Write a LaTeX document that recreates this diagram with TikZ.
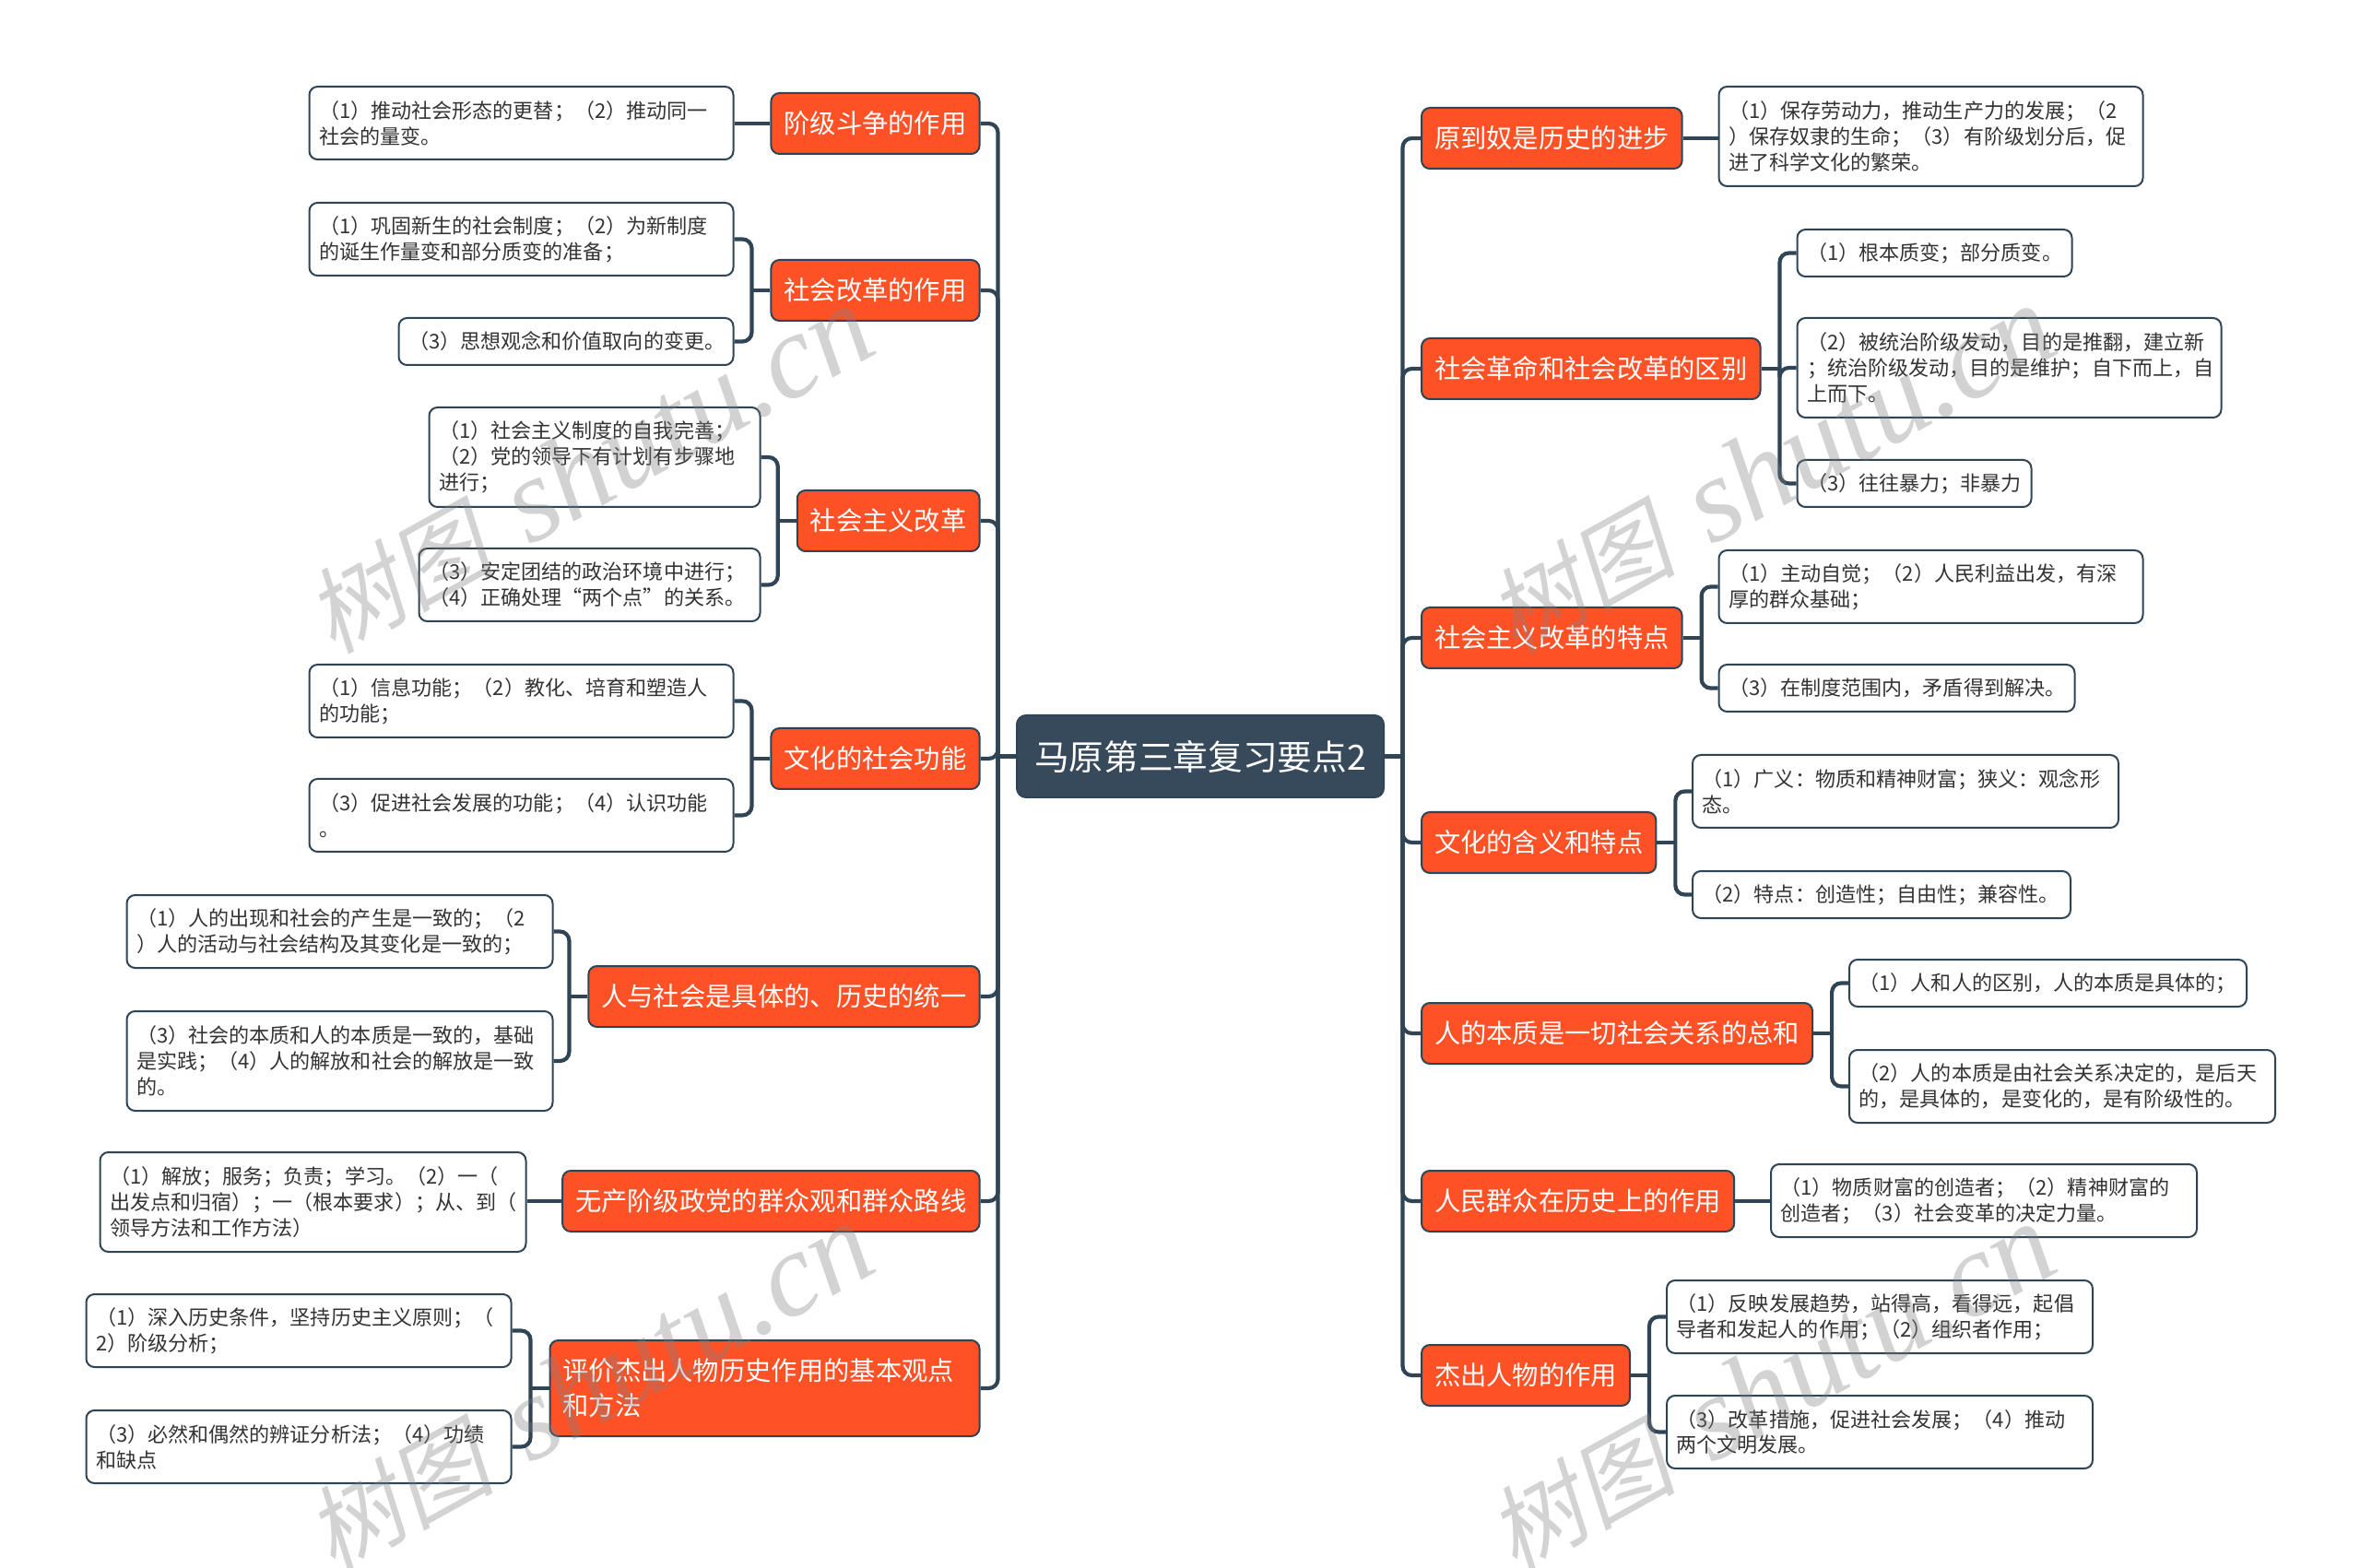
\documentclass[tikz,border=0pt]{standalone}
\usepackage{fontspec}
\setmainfont{Noto Sans CJK SC}
\newfontfamily\wmcjk[FakeSlant=0.2]{Noto Sans CJK SC}
\newfontfamily\wmlatin{Liberation Serif}[ItalicFont=* Italic]
\usetikzlibrary{calc}
\definecolor{navy}{HTML}{374A5C}
\definecolor{wire}{HTML}{2F4455}
\definecolor{flame}{HTML}{FF5126}
\definecolor{ink}{HTML}{333333}
\tikzset{
	rootbox/.style={draw=wire, line width=0.02cm, fill=navy, text=white, rounded corners=0.1cm, minimum width=3.98cm, minimum height=0.89cm, inner sep=0, font=\fontsize{10.72}{13}\selectfont},
	topic/.style={draw=wire, line width=0.02cm, fill=flame, text=white, rounded corners=0.09cm, minimum height=0.66cm, inner xsep=0.14cm, inner ysep=0, font=\fontsize{8.05}{10.77}\selectfont},
	leaf/.style={draw=wire, line width=0.02cm, fill=white, text=ink, rounded corners=0.09cm, inner xsep=0.105cm, inner ysep=0, align=left, font=\fontsize{6.28}{7.95}\selectfont},
	one/.style={leaf, minimum height=0.51cm},
	two/.style={leaf, minimum height=0.79cm},
	three/.style={leaf, minimum height=1.08cm},
	conn/.style={draw=wire, line width=0.042cm},
	elbow/.style={conn, rounded corners=0.1cm},
	wm/.style={text=black!50, opacity=0.35, rotate=29, inner sep=0}
}
\begin{document}
\begin{tikzpicture}[y=-1cm]
	\def\xL{10.635}
	\def\xR{15.41}
	\useasboundingbox (0,0) rectangle (25.60,17.01);

	\coordinate (ltrunk) at (10.825,0);
	\coordinate (rtrunk) at (15.215,0);

	\node[rootbox, anchor=north west] (root) at (11.02,7.75) {马原第三章复习要点2};

	\begin{scope}[every node/.append style={topic, anchor=north east}]
		\node (l1) at (\xL,1.00) {阶级斗争的作用};
		\node (l2) at (\xL,2.81) {社会改革的作用};
		\node (l3) at (\xL,5.31) {社会主义改革};
		\node (l4) at (\xL,7.89) {文化的社会功能};
		\node (l5) at (\xL,10.47) {人与社会是具体的、历史的统一};
		\node (l6) at (\xL,12.69) {无产阶级政党的群众观和群众路线};
		\node[text width=4.38cm, align=left, minimum height=1.04cm] (l7) at (\xL,14.53) {评价杰出人物历史作用的基本观点\\和方法};
	\end{scope}

	\begin{scope}[every node/.append style={topic, anchor=north west}]
		\node (r1) at (\xR,1.16) {原到奴是历史的进步};
		\node (r2) at (\xR,3.66) {社会革命和社会改革的区别};
		\node (r3) at (\xR,6.58) {社会主义改革的特点};
		\node (r4) at (\xR,8.80) {文化的含义和特点};
		\node (r5) at (\xR,10.87) {人的本质是一切社会关系的总和};
		\node (r6) at (\xR,12.69) {人民群众在历史上的作用};
		\node (r7) at (\xR,14.58) {杰出人物的作用};
	\end{scope}

	\begin{scope}[every node/.append style={anchor=north east}]
		\node[two, text width=4.39cm] (l1a) at (7.965,0.93) {（1）推动社会形态的更替；（2）推动同一\\社会的量变。};
		\node[two, text width=4.39cm] (l2a) at (7.965,2.19) {（1）巩固新生的社会制度；（2）为新制度\\的诞生作量变和部分质变的准备；};
		\node[one, text width=3.42cm] (l2b) at (7.965,3.44) {（3）思想观念和价值取向的变更。};
		\node[three, text width=3.38cm] (l3a) at (8.255,4.41) {（1）社会主义制度的自我完善；\\（2）党的领导下有计划有步骤地\\进行；};
		\node[two, text width=3.49cm] (l3b) at (8.255,5.94) {（3）安定团结的政治环境中进行；\\（4）正确处理“两个点”的关系。};
		\node[two, text width=4.39cm] (l4a) at (7.965,7.20) {（1）信息功能；（2）教化、培育和塑造人\\的功能；};
		\node[two, text width=4.39cm] (l4b) at (7.965,8.44) {（3）促进社会发展的功能；（4）认识功能\\。};
		\node[two, text width=4.41cm] (l5a) at (6.005,9.70) {（1）人的出现和社会的产生是一致的；（2\\）人的活动与社会结构及其变化是一致的；};
		\node[three, text width=4.41cm] (l5b) at (6.005,10.96) {（3）社会的本质和人的本质是一致的，基础\\是实践；（4）人的解放和社会的解放是一致\\的。};
		\node[three, text width=4.41cm] (l6a) at (5.715,12.49) {（1）解放；服务；负责；学习。（2）一（\\出发点和归宿）；一（根本要求）；从、到（\\领导方法和工作方法）};
		\node[two, text width=4.40cm] (l7a) at (5.555,14.03) {（1）深入历史条件，坚持历史主义原则；（\\2）阶级分析；};
		\node[two, text width=4.40cm] (l7b) at (5.555,15.29) {（3）必然和偶然的辨证分析法；（4）功绩\\和缺点};
	\end{scope}

	\begin{scope}[every node/.append style={anchor=north west}]
		\node[three, text width=4.39cm] (r1a) at (18.635,0.93) {（1）保存劳动力，推动生产力的发展；（2\\）保存奴隶的生命；（3）有阶级划分后，促\\进了科学文化的繁荣。};
		\node[one, text width=2.77cm] (r2a) at (19.485,2.48) {（1）根本质变；部分质变。};
		\node[three, text width=4.39cm] (r2b) at (19.485,3.44) {（2）被统治阶级发动，目的是推翻，建立新\\；统治阶级发动，目的是维护；自下而上，自\\上而下。};
		\node[one, text width=2.33cm] (r2c) at (19.485,4.98) {（3）往往暴力；非暴力};
		\node[two, text width=4.39cm] (r3a) at (18.635,5.96) {（1）主动自觉；（2）人民利益出发，有深\\厚的群众基础；};
		\node[one, text width=3.65cm] (r3b) at (18.635,7.20) {（3）在制度范围内，矛盾得到解决。};
		\node[two, text width=4.41cm] (r4a) at (18.35,8.18) {（1）广义：物质和精神财富；狭义：观念形\\态。};
		\node[one, text width=3.89cm] (r4b) at (18.35,9.44) {（2）特点：创造性；自由性；兼容性。};
		\node[one, text width=4.10cm] (r5a) at (20.05,10.40) {（1）人和人的区别，人的本质是具体的；};
		\node[two, text width=4.41cm] (r5b) at (20.05,11.38) {（2）人的本质是由社会关系决定的，是后天\\的，是具体的，是变化的，是有阶级性的。};
		\node[two, text width=4.41cm] (r6a) at (19.20,12.62) {（1）物质财富的创造者；（2）精神财富的\\创造者；（3）社会变革的决定力量。};
		\node[two, text width=4.41cm] (r7a) at (18.07,13.88) {（1）反映发展趋势，站得高，看得远，起倡\\导者和发起人的作用；（2）组织者作用；};
		\node[two, text width=4.41cm] (r7b) at (18.07,15.13) {（3）改革措施，促进社会发展；（4）推动\\两个文明发展。};
	\end{scope}

	\draw[conn] (root.west) -- (ltrunk |- root.west);
	\draw[conn] (root.east) -- (rtrunk |- root.east);
	\foreach \topicname in {l1,l2,l3,l4,l5,l6,l7}
	{
		\draw[elbow] (ltrunk |- root.west) |- (\topicname.east);
	}
	\foreach \topicname in {r1,r2,r3,r4,r5,r6,r7}
	{
		\draw[elbow] (rtrunk |- root.east) |- (\topicname.west);
	}

	\draw[conn] (l1.west) -- (l1a.east |- l1.west);
	\draw[conn] (l6.west) -- (l6a.east |- l6.west);
	\draw[conn] (r1.east) -- (r1a.west |- r1.east);
	\draw[conn] (r6.east) -- (r6a.west |- r6.east);

	\foreach \topicname/\leafname in {l2/l2a,l2/l2b,l3/l3a,l3/l3b,l4/l4a,l4/l4b,l5/l5a,l5/l5b,l7/l7a,l7/l7b}
	{
		\draw[conn] (\topicname.west) -- ++(-0.2,0) coordinate (bus);
		\draw[elbow] (bus) |- (\leafname.east);
	}
	\foreach \topicname/\leafname in {r2/r2a,r2/r2b,r2/r2c,r3/r3a,r3/r3b,r4/r4a,r4/r4b,r5/r5a,r5/r5b,r7/r7a,r7/r7b}
	{
		\draw[conn] (\topicname.east) -- ++(0.2,0) coordinate (bus);
		\draw[elbow] (bus) |- (\leafname.west);
	}

	\foreach \wmname/\wmx/\wmy in {wma/6.39/5.10,wmb/6.39/15.06,wmc/19.21/5.10,wmd/19.21/15.06}
	{
		\node[wm] (\wmname) at (\wmx,\wmy) {{\fontsize{29}{34}\wmcjk\selectfont 树图}\hspace{0.4cm}{\fontsize{37}{34}\wmlatin\selectfont\itshape shutu.cn}};
	}
\end{tikzpicture}
\end{document}
